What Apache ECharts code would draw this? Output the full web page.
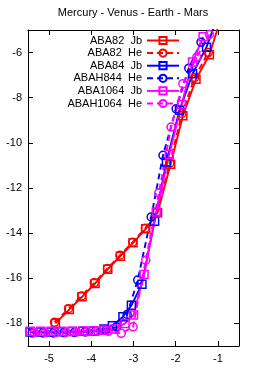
<!DOCTYPE html>
<html><head><meta charset="utf-8">
<script src="https://cdn.jsdelivr.net/npm/echarts@6/dist/echarts.min.js"></script>
<style>html,body{margin:0;padding:0;background:#fff}#c{width:266px;height:369px}</style>
</head><body><div id="c"></div>
<script>
const titleText = 'Mercury - Venus - Earth - Mars';
const seriesNames = ['ABA82  Jb', 'ABA82  He', 'ABA84  Jb', 'ABAH844  He', 'ABA1064  Jb', 'ABAH1064  He'];
const xTicks = [-5, -4, -3, -2, -1];
const yTicks = [-18, -16, -14, -12, -10, -8, -6];

const aba82JbX = [-4.85, -4.52, -4.22, -3.91, -3.61, -3.31, -3.01, -2.71, -2.43, -2.12, -1.83, -1.52, -1.20, -0.95];
const aba82JbY = [-18.0, -17.38, -16.82, -16.23, -15.60, -15.02, -14.43, -13.81, -13.10, -10.95, -8.80, -7.18, -6.10, -4.6];
const aba82HeX = [-4.87, -4.54, -4.23, -3.93, -3.62, -3.32, -3.02, -2.72, -2.44, -2.14, -1.85, -1.55, -1.23];
const aba82HeY = [-17.95, -17.35, -16.78, -16.20, -15.57, -14.98, -14.40, -13.78, -13.05, -10.90, -8.70, -7.10, -6.00];
const aba84JbX = [-5.45, -5.20, -4.95, -4.70, -4.45, -4.20, -3.95, -3.70, -3.50, -3.25, -3.05, -2.80, -2.50, -2.22, -1.91, -1.60, -1.27, -1.1];
const aba84JbY = [-18.38, -18.38, -18.38, -18.37, -18.36, -18.35, -18.33, -18.25, -18.10, -17.70, -17.20, -16.26, -13.47, -10.85, -8.56, -6.94, -5.76, -4.9];
const abah844HeX = [-5.40, -5.15, -4.90, -4.65, -4.40, -4.15, -3.90, -3.65, -3.40, -3.15, -2.90, -2.58, -2.30, -1.99, -1.69, -1.40];
const abah844HeY = [-18.42, -18.42, -18.42, -18.41, -18.40, -18.38, -18.35, -18.30, -18.15, -17.60, -16.08, -13.28, -10.55, -8.49, -6.69, -5.54];
const aba1064JbX = [-5.45, -5.20, -4.95, -4.70, -4.45, -4.20, -3.95, -3.70, -3.45, -3.20, -3.00, -2.75, -2.46, -2.15, -1.86, -1.60, -1.35];
const aba1064JbY = [-18.35, -18.35, -18.35, -18.35, -18.35, -18.33, -18.32, -18.30, -18.25, -18.00, -17.63, -15.83, -13.06, -10.50, -8.30, -6.42, -5.3];
const abah1064HeX = [-5.35, -5.10, -4.85, -4.60, -4.35, -4.10, -3.85, -3.60, -3.29, -3.01, -2.71, -2.40, -2.11, -1.83, -1.50, -1.20];
const abah1064HeY = [-18.40, -18.40, -18.40, -18.40, -18.38, -18.37, -18.35, -18.35, -18.44, -18.15, -15.20, -12.22, -9.30, -7.38, -6.20, -5.20];

const allX = [aba82JbX, aba82HeX, aba84JbX, abah844HeX, aba1064JbX, abah1064HeX];
const allY = [aba82JbY, aba82HeY, aba84JbY, abah844HeY, aba1064JbY, abah1064HeY];
const colors = ['#ff0000', '#ff0000', '#0000ff', '#0000ff', '#ff00ff', '#ff00ff'];
const FONT = 'Liberation Sans, Arial, sans-serif';

const series = seriesNames.map((name, i) => {
  const dashed = i % 2 === 1;
  return {
    name: name,
    type: 'line',
    xAxisIndex: 0, yAxisIndex: 0,
    data: allX[i].map((x, k) => [x, allY[i][k]]),
    symbol: dashed ? 'circle' : 'rect',
    symbolSize: 8,
    showAllSymbol: true,
    clip: true,
    lineStyle: { color: colors[i], width: 1.9, type: dashed ? [6, 4] : 'solid' },
    itemStyle: { color: 'rgba(255,255,255,0)', borderColor: colors[i], borderWidth: 1.5 },
    emphasis: { disabled: true },
    animation: false
  };
});

const axisCommon = {
  type: 'value',
  axisLine: { show: true, lineStyle: { color: '#000', width: 1 } },
  splitLine: { show: false },
  axisTick: { inside: true, length: 5, lineStyle: { color: '#000' } },
  axisLabel: { color: '#000', fontSize: 11, fontFamily: FONT }
};

const chart = echarts.init(document.getElementById('c'), null, { renderer: 'canvas' });
chart.setOption({
  animation: false,
  backgroundColor: '#fff',
  title: {
    text: titleText, left: 'center', top: 7, padding: 0,
    textStyle: { fontSize: 11, fontWeight: 'normal', color: '#000', fontFamily: FONT }
  },
  legend: {
    orient: 'vertical', align: 'right', right: 86, top: 35, padding: 0,
    itemWidth: 32, itemHeight: 9, itemGap: 1.6,
    textStyle: { fontSize: 11, color: '#000', fontFamily: FONT, lineHeight: 9 },
    data: seriesNames
  },
  grid: { left: 28, right: 27, top: 30, bottom: 23, show: false },
  xAxis: [
    Object.assign({}, axisCommon, {
      position: 'bottom', min: -5.5, max: -0.5,
      axisTick: Object.assign({}, axisCommon.axisTick, { customValues: xTicks }),
      axisLabel: Object.assign({}, axisCommon.axisLabel, { customValues: xTicks, margin: 7 })
    }),
    Object.assign({}, axisCommon, {
      position: 'top', min: -5.5, max: -0.5,
      axisTick: Object.assign({}, axisCommon.axisTick, { customValues: xTicks }),
      axisLabel: { show: false }
    })
  ],
  yAxis: [
    Object.assign({}, axisCommon, {
      position: 'left', min: -19, max: -5,
      axisTick: Object.assign({}, axisCommon.axisTick, { customValues: yTicks }),
      axisLabel: Object.assign({}, axisCommon.axisLabel, { customValues: yTicks, margin: 6 })
    }),
    Object.assign({}, axisCommon, {
      position: 'right', min: -19, max: -5,
      axisTick: Object.assign({}, axisCommon.axisTick, { customValues: yTicks }),
      axisLabel: { show: false }
    })
  ],
  series: series
});
</script></body></html>
